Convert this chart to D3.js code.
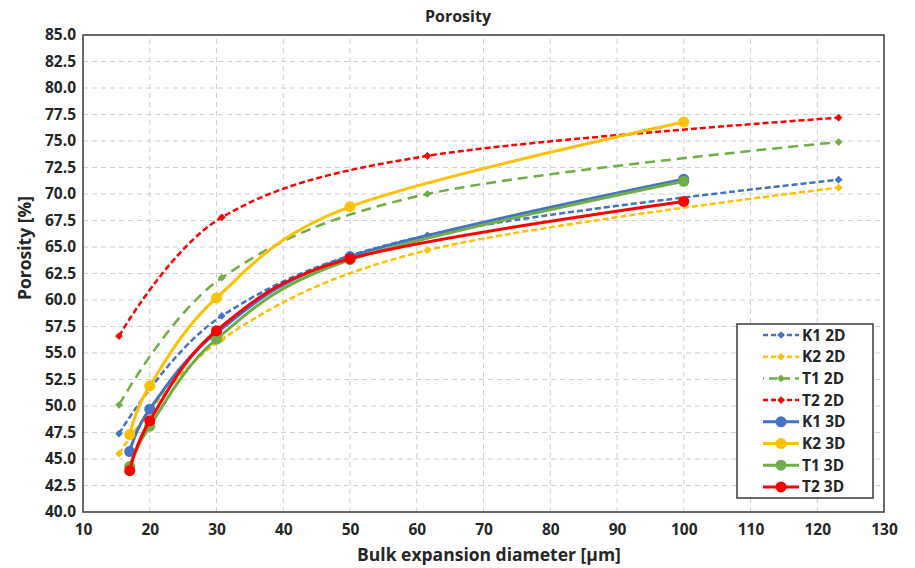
<!DOCTYPE html>
<meta charset="utf-8">
<script type="text/javascript" src="https://cdn.jsdelivr.net/npm/d3@7/dist/d3.min.js"></script>
<style>
body { margin: 0; background: #fff; }
text {
  font-family: "Open Sans", "Liberation Sans", Arial, sans-serif;
  font-weight: bold;
  fill: #262626;
}
.grid line { stroke: #d0d0d0; stroke-width: 1px; stroke-dasharray: 5,4; }
.frame { fill: none; stroke: #3a3a3a; stroke-width: 1.5px; }
path.series { fill: none; }
</style>
<body>
<div id="chart"></div>
<script>
// x values (µm)
var x2D = [15.4, 30.8, 61.6, 123.2];
var x3D = [17, 20, 30, 50, 100];

// porosity [%]
var k1_2D = [47.4, 58.5, 66.1, 71.35];
var k2_2D = [45.5, 56.3, 64.7, 70.6];
var t1_2D = [50.1, 62.1, 70.0, 74.9];
var t2_2D = [56.6, 67.8, 73.6, 77.2];

var k1_3D = [45.7, 49.7, 56.9, 64.1, 71.4];
var k2_3D = [47.3, 51.9, 60.2, 68.8, 76.8];
var t1_3D = [44.3, 48.1, 56.3, 63.8, 71.2];
var t2_3D = [43.9, 48.6, 57.1, 63.9, 69.3];

var xTicks = [10, 20, 30, 40, 50, 60, 70, 80, 90, 100, 110, 120, 130];
var yTicks = d3.range(40, 85.01, 2.5);

var blue = "#4472C4", gold = "#FFC000", green = "#70AD47", red = "#FF0000";

var series = [
  {name: "K1 2D", xs: x2D, ys: k1_2D, color: blue,  dim: 2, dash: "6,3"},
  {name: "K2 2D", xs: x2D, ys: k2_2D, color: gold,  dim: 2, dash: "6,3"},
  {name: "T1 2D", xs: x2D, ys: t1_2D, color: green, dim: 2, dash: "10,6"},
  {name: "T2 2D", xs: x2D, ys: t2_2D, color: red,   dim: 2, dash: "6,3"},
  {name: "K1 3D", xs: x3D, ys: k1_3D, color: blue,  dim: 3, dash: null},
  {name: "K2 3D", xs: x3D, ys: k2_3D, color: gold,  dim: 3, dash: null},
  {name: "T1 3D", xs: x3D, ys: t1_3D, color: green, dim: 3, dash: null},
  {name: "T2 3D", xs: x3D, ys: t2_3D, color: red,   dim: 3, dash: null}
];

var width = 915, height = 568;
var margin = {left: 83, right: 31, top: 35, bottom: 56};

var svg = d3.select("#chart").append("svg")
  .attr("width", width)
  .attr("height", height);

var x = d3.scaleLinear().domain([10, 130]).range([margin.left, width - margin.right]);
var y = d3.scaleLinear().domain([40, 85]).range([height - margin.bottom, margin.top]);

// gridlines
var grid = svg.append("g").attr("class", "grid");
grid.selectAll("line.v")
  .data(xTicks.slice(1, -1))
  .enter().append("line")
  .attr("x1", function(d) { return x(d); })
  .attr("x2", function(d) { return x(d); })
  .attr("y1", y(40)).attr("y2", y(85));
grid.selectAll("line.h")
  .data(yTicks.slice(1, -1))
  .enter().append("line")
  .attr("y1", function(d) { return y(d); })
  .attr("y2", function(d) { return y(d); })
  .attr("x1", x(10)).attr("x2", x(130));

// axes (labels only, frame drawn separately)
var xAxis = svg.append("g")
  .attr("transform", "translate(0," + y(40) + ")")
  .call(d3.axisBottom(x).tickValues(xTicks).tickSize(0).tickPadding(12));
var yAxis = svg.append("g")
  .attr("transform", "translate(" + x(10) + ",0)")
  .call(d3.axisLeft(y).tickValues(yTicks).tickSize(0).tickPadding(7).tickFormat(d3.format(".1f")));
xAxis.select(".domain").remove();
yAxis.select(".domain").remove();
svg.selectAll(".tick text").style("font-size", "15.5px").attr("fill", "#262626")
  .style("font-family", "'Open Sans', 'Liberation Sans', Arial, sans-serif").style("font-weight", "bold");

svg.append("rect").attr("class", "frame")
  .attr("x", x(10)).attr("y", y(85))
  .attr("width", x(130) - x(10)).attr("height", y(40) - y(85));

// lines
var line = d3.line()
  .x(function(d) { return x(d[0]); })
  .y(function(d) { return y(d[1]); })
  .curve(d3.curveCardinal.tension(0));

var diamond = d3.symbol().type(d3.symbolSquare).size(30);

function pts(s) {
  return s.xs.map(function(v, i) { return [v, s.ys[i]]; });
}

// draw 2D first, then 3D on top
series.forEach(function(s) {
  var g = svg.append("g");
  g.append("path")
    .attr("class", "series")
    .attr("d", line(pts(s)))
    .attr("stroke", s.color)
    .attr("stroke-width", s.dim == 2 ? 2.5 : 3)
    .attr("stroke-dasharray", s.dash);
  if (s.dim == 2) {
    g.selectAll("path.m")
      .data(pts(s))
      .enter().append("path")
      .attr("d", diamond)
      .attr("transform", function(d) { return "translate(" + x(d[0]) + "," + y(d[1]) + ") rotate(45)"; })
      .attr("fill", s.color);
  } else {
    g.selectAll("circle")
      .data(pts(s))
      .enter().append("circle")
      .attr("cx", function(d) { return x(d[0]); })
      .attr("cy", function(d) { return y(d[1]); })
      .attr("r", 5.5)
      .attr("fill", s.color);
  }
});

// titles
svg.append("text")
  .attr("x", 458).attr("y", 22)
  .attr("text-anchor", "middle")
  .style("font-size", "16px")
  .text("Porosity");
svg.append("text")
  .attr("x", 489).attr("y", 561)
  .attr("text-anchor", "middle")
  .style("font-size", "17.5px")
  .text("Bulk expansion diameter [µm]");
svg.append("text")
  .attr("transform", "translate(31,248) rotate(-90)")
  .attr("text-anchor", "middle")
  .style("font-size", "17.5px")
  .text("Porosity [%]");

// legend
var lg = svg.append("g").attr("transform", "translate(737,324)");
lg.append("rect")
  .attr("width", 136).attr("height", 174)
  .attr("fill", "#fff").attr("stroke", "#3a3a3a").attr("stroke-width", 1.5);
var item = lg.selectAll("g.item")
  .data(series)
  .enter().append("g")
  .attr("transform", function(d, i) { return "translate(0," + (11 + i * 21.7) + ")"; });
item.append("line")
  .attr("x1", 26).attr("x2", 62)
  .attr("stroke", function(d) { return d.color; })
  .attr("stroke-width", function(d) { return d.dim == 2 ? 2.5 : 3; })
  .attr("stroke-dasharray", function(d) { return d.dim == 2 ? (d.dash == "10,6" ? "8,5" : "5,3") : null; })
  .attr("stroke-dashoffset", function(d) { return d.dash == "10,6" ? -6 : 0; });
item.filter(function(d) { return d.dim == 2; }).append("path")
  .attr("d", diamond)
  .attr("transform", "translate(44,0) rotate(45)")
  .attr("fill", function(d) { return d.color; });
item.filter(function(d) { return d.dim == 3; }).append("circle")
  .attr("cx", 44).attr("r", 5.5)
  .attr("fill", function(d) { return d.color; });
item.append("text")
  .attr("x", 65).attr("dy", "0.36em")
  .style("font-size", "15.5px")
  .text(function(d) { return d.name; });
</script>
</body>
</html>
